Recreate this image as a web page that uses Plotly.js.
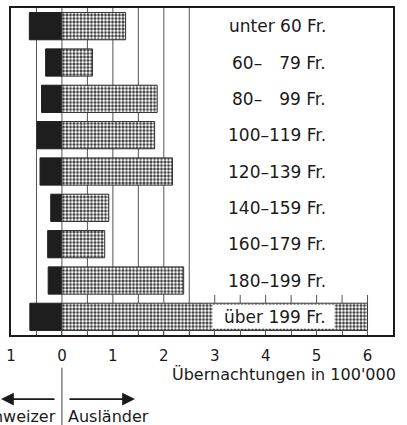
<!DOCTYPE html>
<html>
<head>
<meta charset="utf-8">
<script src="https://cdn.plot.ly/plotly-3.0.1.min.js"></script>
<style>html,body{margin:0;padding:0;background:#fff;}#chart{width:407px;height:425px;}</style>
</head>
<body>
<div id="chart"></div>
<script>
// Data
var categories = ["unter 60 Fr.", "60–\u2002\u200279 Fr.", "80–\u2002\u200299 Fr.", "100–119 Fr.", "120–139 Fr.", "140–159 Fr.", "160–179 Fr.", "180–199 Fr.", "über 199 Fr."];
var schweizer = [0.64, 0.32, 0.40, 0.49, 0.43, 0.22, 0.28, 0.27, 0.63];   // 100'000 Übernachtungen
var auslaender = [1.25, 0.60, 1.87, 1.82, 2.17, 0.92, 0.84, 2.39, 6.00];
var tickVals = [-1, -0.5, 0, 0.5, 1, 1.5, 2, 2.5, 3, 3.5, 4, 4.5, 5, 5.5, 6];
var tickText = ["1", "", "0", "", "1", "", "2", "", "3", "", "4", "", "5", "", "6"];
var fullGrid = [-0.5, 0, 0.5, 1, 1.5, 2, 2.5];
var shortGrid = [3, 3.5, 4, 4.5, 5, 5.5, 6];

var ink = "#1a1a1a";
var font = "DejaVu Sans";

var traces = [
  {
    type: "bar", orientation: "h", name: "Schweizer",
    y: categories, x: schweizer.map(function (v) { return -v; }),
    marker: { color: "#1e1e1e", line: { color: "#1e1e1e", width: 1 } },
    hoverinfo: "skip"
  },
  {
    type: "bar", orientation: "h", name: "Ausländer",
    y: categories, x: auslaender,
    marker: {
      color: "#333",
      line: { color: "#333", width: 1 },
      pattern: { shape: ".", fgcolor: "#ffffff", bgcolor: "#2a2a2a", size: 3.5, solidity: 0.55 }
    },
    hoverinfo: "skip"
  }
];

var shapes = [];
fullGrid.forEach(function (g) {
  shapes.push({ type: "line", layer: "below", xref: "x", yref: "paper", x0: g, x1: g, y0: 0, y1: 1,
    line: { color: "#555", width: 1 } });
});
shortGrid.forEach(function (g) {
  shapes.push({ type: "line", layer: "below", xref: "x", yref: "y", x0: g, x1: g, y0: 7.4, y1: 7.62,
    line: { color: "#555", width: 1 } });
});
// white box behind the label inside the last bar
shapes.push({ type: "rect", layer: "above", xref: "x", yref: "y", x0: 2.96, x1: 5.35, y0: 7.67, y1: 8.32,
  fillcolor: "#fff", line: { width: 0 } });
// divider line under the axis
shapes.push({ type: "line", xref: "x", yref: "paper", x0: 0, x1: 0, y0: -0.1, y1: -0.3,
  line: { color: "#444", width: 1 } });

var annotations = categories.map(function (c) {
  return { xref: "x", yref: "y", x: 5.22, y: c, text: c, showarrow: false, xanchor: "right", yanchor: "middle",
    font: { family: font, size: 17, color: ink } };
});
annotations.push({ xref: "paper", yref: "paper", x: 1.013, y: -0.122, xanchor: "right", yanchor: "middle",
  text: "Übernachtungen in 100'000", showarrow: false, font: { family: font, size: 16, color: ink } });
annotations.push({ xref: "paper", yref: "paper", x: (58 - 11) / 382, y: -0.25, xanchor: "right", yanchor: "middle",
  text: "Schweizer", showarrow: false, font: { family: font, size: 16, color: ink } });
annotations.push({ xref: "paper", yref: "paper", x: (66 - 11) / 382, y: -0.25, xanchor: "left", yanchor: "middle",
  text: "Ausländer", showarrow: false, font: { family: font, size: 16, color: ink } });
// arrows
annotations.push({ xref: "paper", yref: "paper", x: (-1 - 11) / 382, y: -0.196, text: "", showarrow: true,
  ax: 57, ay: 0, arrowhead: 2, arrowsize: 1.6, arrowwidth: 1.6, arrowcolor: ink });
annotations.push({ xref: "paper", yref: "paper", x: (135 - 11) / 382, y: -0.196, text: "", showarrow: true,
  ax: -67, ay: 0, arrowhead: 2, arrowsize: 1.6, arrowwidth: 1.6, arrowcolor: ink });

var layout = {
  width: 407, height: 425,
  margin: { l: 11, r: 14, t: 8, b: 90 },
  paper_bgcolor: "#fff", plot_bgcolor: "#fff",
  showlegend: false,
  barmode: "relative",
  bargap: 0.25,
  xaxis: {
    range: [-1, 6.5], tickmode: "array", tickvals: tickVals, ticktext: tickText,
    ticks: "inside", ticklen: 5, tickcolor: "#555", tickwidth: 1,
    showgrid: false, zeroline: false,
    showline: true, linecolor: ink, linewidth: 2, mirror: true,
    ticklabelstandoff: 6,
    tickfont: { family: font, size: 15, color: ink }
  },
  yaxis: {
    type: "category", categoryorder: "array", categoryarray: categories,
    range: [8.5, -0.5],
    showticklabels: false, ticks: "", showgrid: false, zeroline: false,
    showline: true, linecolor: ink, linewidth: 2, mirror: true
  },
  shapes: shapes,
  annotations: annotations
};

Plotly.newPlot("chart", traces, layout, { staticPlot: true, displayModeBar: false });
</script>
</body>
</html>
